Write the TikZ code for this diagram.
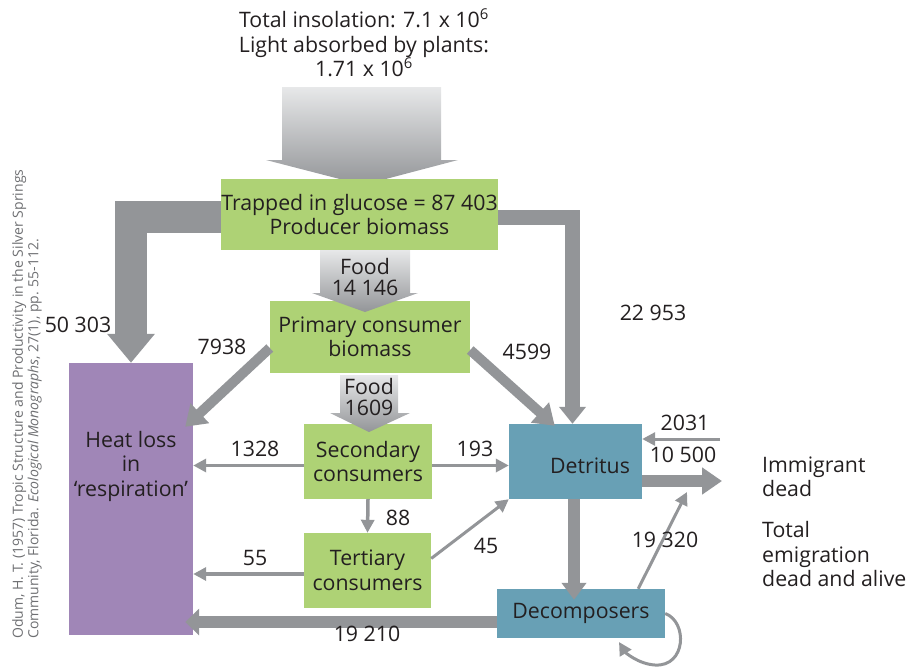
\documentclass[tikz,border=0pt]{standalone}
\usepackage{fontspec}
\setmainfont{Open Sans}
\usepackage{xcolor}
\usetikzlibrary{arrows.meta,calc}

\definecolor{leafgreen}{RGB}{174,210,117}
\definecolor{detteal}{RGB}{104,160,181}
\definecolor{heatpurple}{RGB}{160,134,183}
\definecolor{flowgray}{RGB}{147,149,152}
\definecolor{palegray}{RGB}{231,232,233}
\definecolor{inkgray}{RGB}{35,31,32}
\definecolor{citegray}{RGB}{110,111,114}

\tikzset{
  txt/.style={font=\fontsize{21.3}{24.5}\selectfont, text=inkgray, align=center, inner sep=0pt},
  box/.style={rectangle, inner sep=0pt, txt},
  thinflow/.style={draw=flowgray, line width=3.5pt, -{Triangle[width=13pt,length=13pt]}},
  midflow/.style={draw=flowgray, line width=10pt, -{Triangle[width=26pt,length=20pt]}},
  fatflow/.style={draw=flowgray, line join=miter, -{Triangle[width=26pt,length=17pt]}},
  foodshade/.style={top color=palegray, bottom color=flowgray},
}

\begin{document}
\begin{tikzpicture}[x=1pt, y=-1pt]
    \useasboundingbox (0,0) rectangle (909,667);

    % --- source text and light arrow ---
    \node[txt] (insol) at (364,43) {Total insolation: 7.1 x 10\textsuperscript{6}\\Light absorbed by plants:\\1.71 x 10\textsuperscript{6}};
    \shade[foodshade] (282,87) -- (441,87) -- (441,160) -- (458,160) -- (363,185) -- (266,160) -- (282,160) -- cycle;

    % --- boxes ---
    \node[box, fill=heatpurple, minimum width=124pt, minimum height=272pt] (heat) at (131,499) {};
    \node[txt] (heattext) at ([yshift=33pt]heat.center) {Heat loss\\in\\`respiration'};
    \node[box, fill=leafgreen, minimum width=277pt, minimum height=71pt] (prod) at (359.5,214.5) {Trapped in glucose = 87 403\\Producer biomass};
    \node[box, fill=leafgreen, minimum width=200pt, minimum height=72pt] (prim) at (370,337) {Primary consumer\\biomass};
    \node[box, fill=leafgreen, minimum width=128pt, minimum height=75pt] (sec) at (368,461.5) {Secondary\\consumers};
    \node[box, fill=leafgreen, minimum width=127pt, minimum height=75pt] (ter) at (367.5,570.5) {Tertiary\\consumers};
    \node[box, fill=detteal, minimum width=133pt, minimum height=75pt] (det) at (575.5,461.5) {};
    \node[txt] (dettext) at (590,466) {Detritus};
    \node[box, fill=detteal, minimum width=168pt, minimum height=49pt] (dec) at (581,613.5) {Decomposers};

    % --- food arrows ---
    \shade[foodshade] (320,250) -- (410,250) -- (410,293) -- (418,293) -- (365,312) -- (312,293) -- (320,293) -- cycle;
    \node[txt, font=\fontsize{21.3}{21}\selectfont] (food1) at (365,277) {Food\\14 146};
    \shade[foodshade] (340,375) -- (398,375) -- (398,413) -- (410,413) -- (369,432) -- (330,413) -- (340,413) -- cycle;
    \node[txt, font=\fontsize{21.3}{21}\selectfont] (food2) at (369,397) {Food\\1609};

    % --- producer losses ---
    \draw[fatflow, line width=32pt, -{Triangle[width=46pt,length=29pt]}] ([yshift=-2pt]prod.west) -| (heat.north);
    \draw[fatflow, line width=15pt] ([yshift=-3pt]prod.east) -| ([xshift=-3pt]det.north);
    \node[txt] (l50303) at (78,325) {50 303};
    \node[txt] (l22953) at (653,313) {22 953};

    % --- primary consumer flows ---
    \draw[midflow] ([yshift=-11pt]prim.west) -- ($(heat.north east)+(-8,64)$);
    \draw[midflow] ([yshift=-13pt]prim.east) -- ($(det.north west)+(46,2)$);
    \node[txt] (l7938) at (222,347) {7938};
    \node[txt] (l4599) at (527,352) {4599};

    % --- secondary and tertiary flows ---
    \coordinate (s1) at ([yshift=-4pt]sec.west);
    \coordinate (s2) at ([yshift=-4pt]sec.east);
    \coordinate (t1) at ([yshift=-3.5pt]ter.west);
    \coordinate (t2) at ([yshift=12pt]ter.east);
    \draw[thinflow] (s1) -- (s1 -| heat.east);
    \draw[thinflow] (s2) -- (s2 -| det.west);
    \draw[thinflow] (sec.south) -- (ter.north);
    \draw[thinflow] (t1) -- (t1 -| heat.east);
    \draw[thinflow, line width=3pt] (t2) -- (det.south west);
    \node[txt] (l1328) at (255,449) {1328};
    \node[txt] (l193) at (475,449) {193};
    \node[txt] (l88) at (398,518) {88};
    \node[txt] (l55) at (255,558) {55};
    \node[txt] (l45) at (486,546) {45};

    % --- detritus and decomposers ---
    \coordinate (immin) at (720,439);
    \coordinate (emout) at (722,481);
    \coordinate (recyc) at (687,492);
    \draw[thinflow, line width=3pt] (immin) -- (immin -| det.east);
    \draw[fatflow, line width=12pt, -{Triangle[width=26pt,length=20pt]}] (emout -| det.east) -- (emout);
    \draw[fatflow, line width=12pt, -{Triangle[width=24pt,length=17pt]}] ([xshift=-1.5pt]det.south) -- ($([xshift=-1.5pt]det.south |- dec.north)+(0,11)$);
    \draw[thinflow, line width=3pt] ($(dec.north east)+(-27,0)$) -- (recyc);
    \draw[fatflow, line width=12pt, -{Triangle[width=26pt,length=14pt]}] ([yshift=-8.5pt]dec.west) -- ($([yshift=-8.5pt]dec.west -| heat.east)+(-8,0)$);
    \draw[thinflow, line width=3pt] (dec.east) .. controls (688,622) and (686,667) .. (655,665) .. controls (638,664) and (625,652) .. (619,642);
    \node[txt] (l2031) at (685,423) {2031};
    \node[txt] (l10500) at (683,455) {10 500};
    \node[txt] (l19320) at (665,540) {19 320};
    \node[txt] (l19210) at (367,634) {19 210};

    % --- right-hand notes ---
    \node[txt, align=left, anchor=west] (immig) at (762,477) {Immigrant\\dead};
    \node[txt, align=left, anchor=west] (emig) at (762,554) {Total\\emigration\\dead and alive};

    % --- source ---
    \node[txt, font=\fontsize{14}{15.5}\selectfont, text=citegray, align=left, rotate=90, anchor=west] (cite) at (27,639)
        {Odum, H. T. (1957) Tropic Structure and Productivity in the Silver Springs\\Community, Florida. \textit{Ecological Monographs}, 27(1), pp. 55-112.};
\end{tikzpicture}
\end{document}
